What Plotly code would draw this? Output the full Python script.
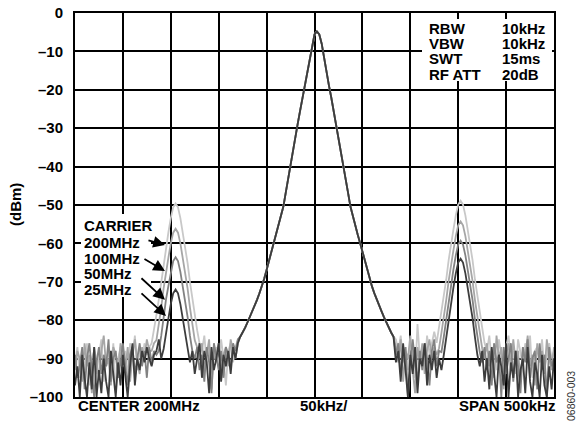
import plotly.graph_objects as go

# ---------------- data ----------------
# sweep points: frequency offset from centre (200 MHz), kHz, 2.5 kHz step
freq_khz = [-250 + 2.5 * i for i in range(201)]

# main carrier (identical for all four traces), -77.5 .. +82.5 kHz
carrier_dbm = [-84.3, -83.2, -82.0, -80.6, -79.2, -77.7, -76.2, -74.7, -73.0, -71.2,
               -69.2, -66.9, -64.6, -62.2, -59.8, -57.6, -55.3, -53.0, -50.4, -46.8,
               -43.0, -39.3, -35.6, -32.2, -28.8, -25.4, -22.0, -18.8, -15.3, -11.8,
               -8.0, -5.6, -4.8, -5.6, -8.0, -11.8, -15.3, -18.8, -22.0, -25.4,
               -28.8, -32.2, -35.6, -39.3, -43.0, -46.8, -50.4, -53.0, -55.3, -57.6,
               -59.8, -62.2, -64.6, -66.9, -69.2, -71.2, -73.0, -74.7, -76.2, -77.7,
               -79.2, -80.6, -82.0, -83.2, -84.3]

# -250 .. -80 kHz (noise floor + lower sideband)
left_200 = [-91, -87, -95, -89, -93, -86, -97, -90, -88, -94,
            -89, -85, -96, -91, -88, -93, -86, -99, -90, -87,
            -92, -88, -95, -86, -90, -84, -93, -88, -91, -86, -89, -87,
            -86, -82.6, -78.6, -74.6, -70.1, -65.1, -60.6, -57.1, -53.4, -50.6, -49.6,
            -50.6, -53.4, -57.1, -60.6, -65.1, -70.1, -74.6, -78.6, -82.6, -86,
            -88, -84, -91, -86, -95, -89, -87, -92, -85, -90, -97, -88, -86, -91, -87, -85]
left_100 = [-93, -88, -90, -96, -86, -92, -89, -99, -87, -91,
            -95, -88, -84, -92, -90, -97, -87, -89, -94, -86,
            -90, -93, -87, -96, -89, -85, -91, -94, -87, -90, -85, -88,
            -88, -86, -85.2, -81.2, -76.7, -71.7, -67.2, -63.7, -60, -57.2, -56.2,
            -57.2, -60, -63.7, -67.2, -71.7, -76.7, -81.2, -85.2, -87, -90,
            -86, -93, -89, -85, -98, -88, -91, -86, -94, -89, -87, -92, -85, -88, -90, -86]
left_50 = [-89, -95, -92, -87, -98, -90, -86, -93, -100, -91,
           -87, -94, -89, -92, -85, -96, -90, -88, -95, -91,
           -86, -92, -97, -89, -87, -94, -90, -86, -92, -88, -95, -87,
           -91, -88, -89, -88, -84.1, -79.1, -74.6, -71.1, -67.4, -64.6, -63.6,
           -64.6, -67.4, -71.1, -74.6, -79.1, -84.1, -88, -90, -87, -93,
           -89, -96, -87, -91, -99, -86, -90, -93, -88, -95, -87, -89, -92, -86, -88, -85]
left_25 = [-97, -92, -100, -89, -95, -100, -91, -98, -87, -100,
           -93, -99, -90, -96, -100, -88, -94, -100, -91, -97,
           -89, -95, -100, -92, -86, -97, -90, -93, -88, -91, -87, -90,
           -92, -89, -88, -85, -90, -87.5, -83, -79.5, -75.8, -73, -72,
           -73, -75.8, -79.5, -83, -87.5, -91, -88, -94, -90, -86,
           -95, -88, -91, -99, -87, -93, -90, -86, -96, -89, -92, -88, -94, -87, -90, -86]

# +85 .. +250 kHz (noise floor + upper sideband)
right_200 = [-85, -88, -84, -91, -87, -93, -86, -89, -95, -81, -90, -87, -92, -84, -89, -86, -83,
             -85.9, -81.9, -77.9, -73.9, -69.4, -64.4, -59.9, -56.4, -52.7, -49.9, -48.9,
             -49.9, -52.7, -56.4, -59.9, -64.4, -69.4, -73.9, -77.9, -81.9, -85.9,
             -88, -84, -91, -86, -93, -85, -89, -96, -87, -84,
             -90, -88, -94, -85, -89, -92, -86, -90, -84, -95,
             -88, -87, -91, -85, -93, -89, -86, -90, -88]
right_100 = [-87, -91, -85, -96, -88, -90, -84, -93, -99, -87, -91, -86, -94, -88, -85, -90, -87,
             -89, -87.3, -83.3, -79.3, -74.8, -69.8, -65.3, -61.8, -58.1, -55.3, -54.3,
             -55.3, -58.1, -61.8, -65.3, -69.8, -74.8, -79.3, -83.3, -87.3, -90,
             -86, -92, -88, -95, -84, -90, -87, -98, -89, -86,
             -93, -85, -91, -88, -96, -87, -90, -84, -92, -89,
             -97, -86, -91, -88, -94, -85, -90, -93, -87]
right_50 = [-89, -86, -94, -90, -87, -100, -92, -85, -91, -96, -88, -93, -86, -90, -97, -88, -85,
            -92, -88, -88.3, -84.3, -79.8, -74.8, -70.3, -66.8, -63.1, -60.3, -59.3,
            -60.3, -63.1, -66.8, -70.3, -74.8, -79.8, -84.3, -88.3, -91, -87,
            -93, -88, -97, -86, -91, -89, -100, -87, -94, -90,
            -86, -96, -88, -92, -99, -87, -91, -85, -95, -90,
            -88, -98, -86, -93, -89, -100, -87, -92, -90]
right_25 = [-91, -88, -96, -86, -93, -100, -89, -94, -87, -99, -90, -92, -86, -97, -89, -93, -88,
            -95, -90, -93, -89, -84.5, -79.5, -75, -71.5, -67.8, -65, -64,
            -65, -67.8, -71.5, -75, -79.5, -84.5, -89, -92, -88, -96,
            -90, -98, -87, -94, -100, -89, -92, -97, -86, -100,
            -91, -95, -88, -100, -93, -90, -99, -87, -96, -100,
            -91, -94, -100, -89, -97, -100, -92, -98, -90]

carrier_names = ["200MHz", "100MHz", "50MHz", "25MHz"]
trace_colors = ["#c8c8c8", "#a6a6a6", "#828282", "#3c3c3c"]
trace_values = [left_200 + carrier_dbm + right_200,
                left_100 + carrier_dbm + right_100,
                left_50 + carrier_dbm + right_50,
                left_25 + carrier_dbm + right_25]

y_ticks = [0, -10, -20, -30, -40, -50, -60, -70, -80, -90, -100]
y_ticktext = ["0", "–10", "–20", "–30", "–40", "–50", "–60", "–70", "–80", "–90", "–100"]
x_grid = [-250, -200, -150, -100, -50, 0, 50, 100, 150, 200, 250]

settings_left = ["RBW", "VBW", "SWT", "RF ATT"]
settings_right = ["10kHz", "10kHz", "15ms", "20dB"]
legend_lines = ["CARRIER", "200MHz", "100MHz", "50MHz", "25MHz"]

# ---------------- figure ----------------
W, H = 580, 424
ML, MR, MT, MB = 75, 26, 13, 27
FONT = "Liberation Sans, Arial, sans-serif"


def pxx(xp):
    return (xp - ML) / (W - ML - MR)


def pxy(yp):
    return (H - MB - yp) / (H - MT - MB)


fig = go.Figure()
for name, yv, col in zip(carrier_names, trace_values, trace_colors):
    fig.add_trace(go.Scatter(x=freq_khz, y=yv, mode="lines", name=name,
                             line=dict(color=col, width=1.8),
                             showlegend=False, hoverinfo="skip"))

fig.update_layout(
    width=W, height=H,
    margin=dict(l=ML, r=MR, t=MT, b=MB, pad=0),
    paper_bgcolor="white", plot_bgcolor="white",
    font=dict(family=FONT, color="black"),
    xaxis=dict(range=[-250, 250], tickvals=x_grid, showticklabels=False,
               showgrid=True, gridcolor="black", gridwidth=2,
               showline=True, mirror=True, linecolor="black", linewidth=2,
               zeroline=False, ticks="", automargin=False),
    yaxis=dict(range=[-100, 0], tickvals=y_ticks, ticktext=y_ticktext,
               tickfont=dict(size=15, family=FONT, weight="bold", color="black"),
               showgrid=True, gridcolor="black", gridwidth=2,
               showline=True, mirror=True, linecolor="black", linewidth=2,
               zeroline=False, ticks="", ticklabelstandoff=7, automargin=False),
)

shapes = [
    dict(type="rect", xref="paper", yref="paper", x0=pxx(422), x1=pxx(552),
         y0=pxy(81), y1=pxy(19), fillcolor="white", line=dict(width=0), layer="above"),
    dict(type="rect", xref="paper", yref="paper", x0=pxx(81), x1=pxx(151),
         y0=pxy(297), y1=pxy(214), fillcolor="white", line=dict(width=0), layer="above"),
]
fig.update_layout(shapes=shapes)

ann = []
bold = dict(family=FONT, size=15, color="black")
# settings box
for i, (a, b) in enumerate(zip(settings_left, settings_right)):
    yc = [28.3, 43.3, 58.7, 74.7][i]
    ann.append(dict(xref="paper", yref="paper", x=pxx(427), y=pxy(yc), xanchor="left",
                    yanchor="middle", text="<b>%s</b>" % a, showarrow=False, font=bold))
    ann.append(dict(xref="paper", yref="paper", x=pxx(500), y=pxy(yc), xanchor="left",
                    yanchor="middle", text="<b>%s</b>" % b, showarrow=False, font=bold))
# carrier labels
for i, t in enumerate(legend_lines):
    yc = [225.5, 242.5, 258, 273, 289.5][i]
    ann.append(dict(xref="paper", yref="paper", x=pxx(82), y=pxy(yc), xanchor="left",
                    yanchor="middle", text="<b>%s</b>" % t, showarrow=False, font=bold))
# arrows (head in data coords, tail offset in px)
arrows = [(-156.1, -60.4, -18, -5), (-156.1, -67.2, -22, -13),
          (-156.1, -74.7, -25, -23), (-155.0, -78.9, -26, -24)]
for hx, hy, ax, ay in arrows:
    ann.append(dict(x=hx, y=hy, xref="x", yref="y", ax=ax, ay=ay, text="",
                    showarrow=True, arrowhead=2, arrowsize=1.3, arrowwidth=1.8,
                    arrowcolor="black", standoff=0, startstandoff=0))
# axis texts
ann.append(dict(xref="paper", yref="paper", x=pxx(15), y=pxy(205), textangle=-90,
                text="<b>(dBm)</b>", showarrow=False, font=bold,
                xanchor="center", yanchor="middle"))
ann.append(dict(xref="paper", yref="paper", x=pxx(76), y=pxy(405), xanchor="left",
                yanchor="middle", text="<b>CENTER 200MHz</b>", showarrow=False, font=bold))
ann.append(dict(xref="paper", yref="paper", x=pxx(298), y=pxy(405), xanchor="left",
                yanchor="middle", text="<b>50kHz/</b>", showarrow=False, font=bold))
ann.append(dict(xref="paper", yref="paper", x=pxx(557), y=pxy(405), xanchor="right",
                yanchor="middle", text="<b>SPAN 500kHz</b>", showarrow=False, font=bold))
ann.append(dict(xref="paper", yref="paper", x=pxx(571), y=pxy(396), textangle=-90,
                text="06860-003", showarrow=False,
                font=dict(family=FONT, size=10.5, color="#333333"),
                xanchor="center", yanchor="middle"))
fig.update_layout(annotations=ann)

fig.write_html("out.html",
               config={"displayModeBar": False, "staticPlot": True},
               post_script="document.body.style.margin='0';"
                           "document.body.style.overflow='hidden';")
